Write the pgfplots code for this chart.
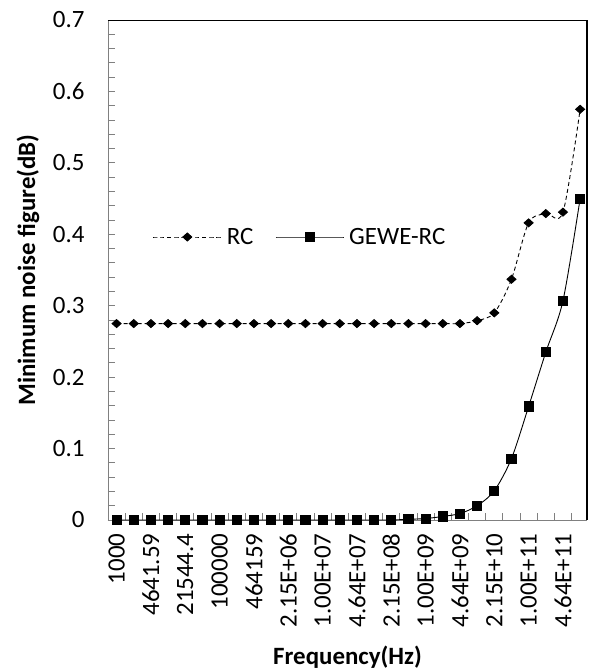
\documentclass[border=0pt]{standalone}
\usepackage{pgfplots}
\usepackage{pgfplotstable}
\pgfplotsset{compat=1.18}
\usepackage{fontspec}
\setmainfont{Carlito}

% index of the frequency point, RC and GEWE-RC minimum noise figure (dB)
\pgfplotstableread{
idx rc    gewe
0   0.275 0
1   0.275 0
2   0.275 0
3   0.275 0
4   0.275 0
5   0.275 0
6   0.275 0
7   0.275 0
8   0.275 0
9   0.275 0
10  0.275 0
11  0.275 0
12  0.275 0
13  0.275 0
14  0.275 0
15  0.275 0
16  0.275 0
17  0.275 0.001
18  0.275 0.002
19  0.275 0.005
20  0.275 0.009
21  0.279 0.020
22  0.290 0.041
23  0.337 0.086
24  0.416 0.159
25  0.429 0.235
26  0.431 0.307
27  0.575 0.450
}\noisedata

\begin{document}
\begin{tikzpicture}
\begin{axis}[
    scale only axis,
    width=479bp, height=500bp,
    xmin=-0.5, xmax=27.4,
    ymin=0, ymax=0.7,
    clip=false,
    axis line style={draw=none},
    tick align=inside,
    xtick pos=bottom, ytick pos=left,
    xtick={0,2,...,26},
    xticklabels={1000,4641.59,21544.4,100000,464159,2.15E+06,1.00E+07,4.64E+07,2.15E+08,1.00E+09,4.64E+09,2.15E+10,1.00E+11,4.64E+11},
    minor xtick={-0.5,0.5,...,26.5},
    major x tick style={draw=none},
    ytick={0,0.1,...,0.7},
    minor y tick num=4,
    yticklabel style={/pgf/number format/fixed, /pgf/number format/precision=1},
    yticklabel shift=20bp,
    /pgf/number format/assume math mode=true,
    tick style={gray, line width=0.8bp},
    major tick length=7bp, minor tick length=7bp,
    tick label style={font=\fontsize{25}{29}\selectfont},
    xticklabel style={rotate=90, anchor=east},
    xticklabel shift=10bp,
    xlabel={\textbf{Frequency(Hz)}},
    ylabel={\textbf{Minimum noise figure(dB)}},
    label style={font=\fontsize{25}{29}\selectfont},
    xlabel style={at={(axis description cs:0.5,-0.274)}, anchor=center},
    ylabel style={at={(axis description cs:-0.167,0.5)}, anchor=center},
    legend style={at={(axis description cs:0.087,0.566)}, anchor=west,
        draw=none, fill=none, font=\fontsize{25}{29}\selectfont,
        legend columns=2,
        /tikz/every odd column/.append style={column sep=3bp},
        /tikz/every even column/.append style={column sep=20bp}},
    legend image code/.code={
        \draw[mark repeat=2, mark phase=2, #1]
            plot coordinates {(0bp,0bp) (34bp,0bp) (68bp,0bp)};
    },
]
\draw[gray, line width=0.8bp] (rel axis cs:0,0) -- (rel axis cs:1,0);
\draw[gray, line width=0.8bp] (rel axis cs:0,0) -- (rel axis cs:0,1);

\addplot[black, line width=0.9bp, smooth, dash pattern=on 4bp off 3bp,
    mark=diamond*, mark size=4bp, mark options={xscale=1.5, solid}]
    table[x=idx, y=rc] {\noisedata};
\addlegendentry{RC}

\addplot[black, line width=0.9bp, smooth,
    mark=square*, mark size=4.6bp, mark options={solid}]
    table[x=idx, y=gewe] {\noisedata};
\addlegendentry{GEWE-RC}

\draw[black, line width=1bp] (rel axis cs:0,1) -- (rel axis cs:1,1);
\draw[black, line width=2.5bp] (rel axis cs:1,0) -- (rel axis cs:1,1);
\end{axis}
\pgfresetboundingbox
\path[use as bounding box] (-108bp,-149bp) rectangle (481bp,520bp);
\end{tikzpicture}
\end{document}
